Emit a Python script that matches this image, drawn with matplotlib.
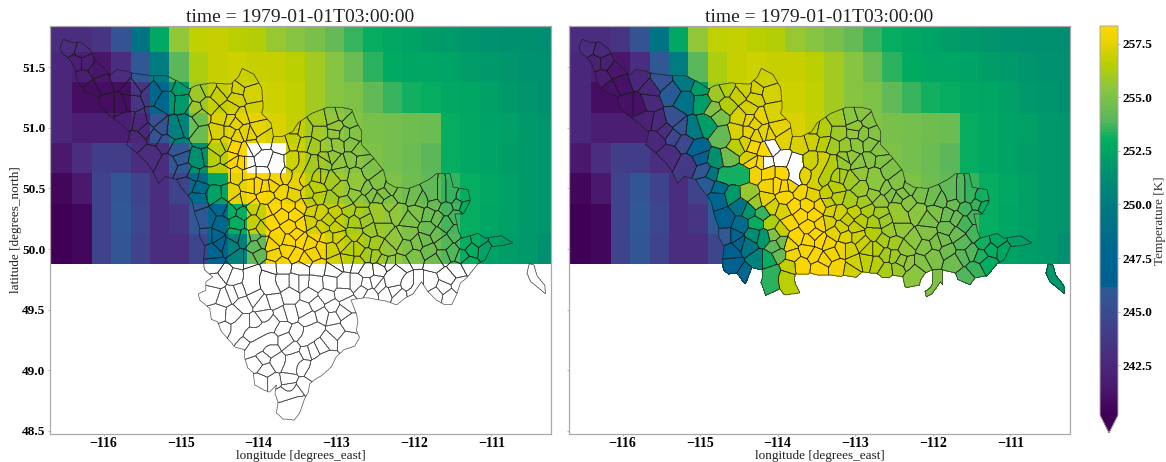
import numpy as np
import matplotlib
matplotlib.use("Agg")
import matplotlib.pyplot as plt
from matplotlib.colors import LinearSegmentedColormap, Normalize
from matplotlib.path import Path
from matplotlib.cm import ScalarMappable

plt.rcParams['font.family'] = ['Liberation Serif', 'DejaVu Serif']

TITLE = "time = 1979-01-01T03:00:00"
X_TICKS = [-116, -115, -114, -113, -112, -111]
Y_TICKS = [48.5, 49.0, 49.5, 50.0, 50.5, 51.0, 51.5]
CB_TICKS = [242.5, 245.0, 247.5, 250.0, 252.5, 255.0, 257.5]

N = float('nan')
# air temperature per grid cell, north row first (K)
ROW_5175 = [243,243,243.5,245.5,249.3,252.8,255.6,256.7,256.8,256.6,256.4,255.7,255.3,254.8,254.3,253.6,253,252.7,252.4,252.2,252,251.8,251.6,251.5,251.4,251.3]
ROW_5150 = [242.5,242,241.3,243,245.9,250,254,256.3,256.9,257,256.9,256.8,256.5,256,255.3,254.5,253.5,252.9,252.6,252.6,252.4,252.2,252,251.8,251.6,251.4]
ROW_5125 = [242.5,241,241,241,243.5,248,252,255.8,256.9,257.2,257.1,257,256.7,256,255.3,255,254.1,253.6,253.2,253,252.8,252.6,252.3,252,251.8,251.5]
ROW_5100 = [242.5,242,242,242,242.5,245.5,250.5,254.5,257.3,257.6,257.6,257.3,256.9,256,255.5,255.2,254.8,254.7,254.6,254.4,253,252.7,252.5,252.3,252,251.7]
ROW_5075 = [241.5,243,244,244,243,243,245.9,251.5,256.5,258.3,N,N,257,256,255.5,255.3,255,254.7,254.5,254,253,252.7,252.4,252.2,252,251.7]
ROW_5050 = [240.5,241.5,244.5,245.7,244.5,243,244.5,248.5,252.5,257.5,258.3,258,257.5,256.6,256,255.5,255.2,255,254.6,254.2,253.6,253,252.7,252.3,252,251.8]
ROW_5025 = [240.3,240.5,244.5,245.9,244.8,243,243.5,245.9,248,253,256.8,258.3,258.3,257.2,256.8,256.2,255.8,255.5,255,254.5,253.7,253,252.6,252.3,252,251.7]
ROW_5000 = [240.3,240.5,244.5,245.8,244.5,243,243,244.7,247.2,250.5,254.2,258,258.3,258,257.2,256.6,256,255.5,255,254.6,253.8,253,252.5,252.2,252,251.5]
LAT_EDGE_SOUTH = 49.875
LON_EDGE_WEST = -116.65
CELL = 0.25
XLIM = (-116.69, -110.23)
YLIM = (48.475, 51.84)

# basin outer boundary (lon, lat)
OUTLINE = [(-116.56,51.66),(-116.52,51.73),(-116.39,51.70),(-116.30,51.71),(-116.18,51.65),(-116.11,51.56),(-115.96,51.47),(-115.92,51.43),(-115.83,51.48),(-115.72,51.47),(-115.62,51.45),(-115.38,51.43),(-115.19,51.43),(-115.03,51.38),(-114.89,51.32),(-114.81,51.35),(-114.61,51.37),(-114.36,51.36),(-114.26,51.42),(-114.21,51.49),(-114.06,51.44),(-113.96,51.33),(-113.94,51.17),(-113.96,51.12),(-113.84,51.04),(-113.81,50.93),(-113.69,50.93),(-113.56,50.97),(-113.49,51.04),(-113.31,51.12),(-113.11,51.17),(-112.93,51.17),(-112.80,51.15),(-112.74,51.05),(-112.67,50.97),(-112.67,50.86),(-112.54,50.77),(-112.39,50.65),(-112.35,50.55),(-112.24,50.51),(-112.06,50.50),(-111.94,50.53),(-111.79,50.58),(-111.71,50.62),(-111.53,50.62),(-111.49,50.51),(-111.30,50.49),(-111.27,50.40),(-111.36,50.29),(-111.47,50.29),(-111.42,50.14),(-111.38,50.09),(-111.17,50.13),(-111.08,50.09),(-110.87,50.11),(-110.72,50.05),(-110.85,50.03),(-111.00,50.02),(-111.08,49.91),(-111.17,49.88),(-111.32,49.76),(-111.40,49.72),(-111.44,49.635),(-111.51,49.54),(-111.60,49.54),(-111.71,49.58),(-111.82,49.65),(-111.90,49.73),(-112.01,49.63),(-112.10,49.60),(-112.22,49.54),(-112.35,49.57),(-112.44,49.58),(-112.60,49.60),(-112.74,49.59),(-112.81,49.58),(-112.74,49.47),(-112.72,49.40),(-112.74,49.33),(-112.70,49.27),(-112.76,49.20),(-112.90,49.17),(-113.00,49.11),(-113.06,49.03),(-113.18,48.96),(-113.26,48.93),(-113.34,48.89),(-113.36,48.82),(-113.41,48.76),(-113.47,48.65),(-113.54,48.59),(-113.69,48.60),(-113.77,48.65),(-113.75,48.74),(-113.79,48.81),(-113.77,48.88),(-113.86,48.82),(-113.94,48.84),(-114.05,48.88),(-114.07,48.98),(-114.14,49.02),(-114.18,49.10),(-114.18,49.17),(-114.30,49.19),(-114.37,49.24),(-114.48,49.32),(-114.53,49.40),(-114.61,49.42),(-114.63,49.51),(-114.76,49.58),(-114.78,49.63),(-114.68,49.66),(-114.68,49.73),(-114.59,49.77),(-114.70,49.83),(-114.71,49.91),(-114.69,50.02),(-114.76,50.10),(-114.76,50.18),(-114.82,50.29),(-114.86,50.40),(-115.0,50.51),(-115.05,50.57),(-115.2,50.6),(-115.29,50.54),(-115.38,50.66),(-115.44,50.71),(-115.60,50.81),(-115.70,50.86),(-115.66,50.96),(-115.79,51.04),(-115.92,51.10),(-116.05,51.18),(-116.07,51.26),(-116.24,51.30),(-116.33,51.38),(-116.37,51.49),(-116.43,51.56),(-116.54,51.62)]
SLIVER = [(-110.51,49.88),(-110.45,49.87),(-110.41,49.78),(-110.31,49.70),(-110.30,49.63),(-110.41,49.69),(-110.49,49.73),(-110.54,49.80)]

SUB_NORTH = [
(-116.45,51.66),(-116.28,51.63),(-116.35,51.54),(-116.22,51.54),(-116.26,51.41),(-116.09,51.48),(-116.02,51.36),(-116.15,51.32),
(-115.79,51.41),(-115.94,51.19),(-115.79,51.19),(-115.64,51.32),(-115.66,51.22),(-115.51,51.38),(-115.38,51.29),(-115.19,51.38),
(-114.99,51.33),(-115.19,51.22),(-115.34,51.07),(-115.53,51.04),(-115.70,51.06),(-115.10,50.99),(-114.97,51.21),(-114.91,51.03),
(-115.57,50.90),(-115.34,50.93),(-115.21,50.88),(-115.04,50.82),(-114.82,51.15),(-114.78,51.28),(-114.65,51.32),(-114.52,51.27),
(-114.76,51.10),(-114.65,51.19),(-114.43,51.32),(-114.37,51.15),(-114.28,51.25),(-114.71,50.93),(-114.52,50.96),(-114.28,50.93),
(-114.52,50.85),(-114.30,51.04),
(-114.17,51.39),(-114.12,51.29),(-114.26,51.31),(-114.07,51.12),(-114.22,51.09),(-114.37,51.07),(-114.47,51.09),(-114.37,50.96),
(-114.17,50.96),(-114.02,50.98),(-113.94,50.90),(-114.31,50.85),(-114.17,50.82),(-114.36,50.74),(-114.19,50.71),(-113.92,50.74),
(-113.71,50.87),(-113.56,50.90),(-113.39,50.87),(-113.41,50.98),(-113.21,51.07),(-113.06,51.09),(-112.91,51.12),(-112.82,51.06),
(-113.21,50.96),(-113.01,50.96),(-112.80,50.87),(-113.0,50.86),(-113.11,50.85),(-112.80,50.73),(-113.31,50.71,-113.46,50.57),
(-113.06,50.76),(-112.93,50.64),(-112.74,50.62,-112.72,50.52),(-112.59,50.65),(-113.21,50.60),(-113.06,50.57),(-112.61,50.49),
(-112.93,50.49),(-112.67,50.40),(-112.46,50.54),(-112.29,50.51),(-112.16,50.46),(-111.99,50.43),(-112.33,50.38),(-112.46,50.34,-112.42,50.26),
(-112.67,50.29),(-112.89,50.38),(-113.06,50.40),(-112.05,50.24),(-111.81,50.28),(-111.60,50.21),(-111.81,50.17),
(-111.75,50.57,-111.75,50.43),(-111.64,50.56,-111.64,50.43),(-111.53,50.57,-111.53,50.43),(-111.38,50.43),(-111.43,50.37),(-111.58,50.34),(-111.73,50.38),(-111.90,50.40),
(-112.42,50.17),(-112.24,50.07),(-112.07,50.13),(-111.86,50.07),(-111.62,50.05),(-111.34,50.05),(-111.17,50.07),(-110.91,50.07),
(-111.08,49.99),(-111.38,49.94),(-111.62,49.94),(-111.81,49.99),(-111.99,49.94),(-112.16,49.88),(-112.31,49.88),(-112.50,49.94),
(-112.72,49.88),(-113.0,49.88),(-112.63,50.07),(-112.76,50.13),(-112.97,50.10),(-113.08,50.0),(-112.82,50.0),(-112.63,50.24),
(-112.93,50.24),(-113.10,50.24),(-111.45,49.83),(-111.56,49.77),(-111.96,49.72,-111.99,49.62),(-112.22,49.83,-112.29,49.72),(-111.30,49.88),
(-115.0,50.75),(-114.95,50.65),(-114.91,50.54),(-114.76,50.42),(-114.67,50.25),(-114.65,50.10),(-114.59,49.99),(-114.57,49.86),
(-114.43,49.80),(-114.48,50.20),(-114.39,50.03),(-114.80,50.73),(-114.63,50.75),(-114.70,50.60,-114.45,50.62),
(-114.59,50.45),(-114.48,50.35),(-114.37,50.46),(-114.28,50.38),(-114.37,50.32),(-114.28,50.21),(-114.09,50.21),(-114.31,50.12),
(-114.18,50.10),(-114.26,49.91),(-114.13,49.91),(-114.03,50.02),(-113.98,49.96),(-114.07,49.80,-114.11,49.68),(-113.90,49.76,-113.82,49.68),
(-114.09,50.35),(-113.96,50.16),(-113.81,49.95),(-114.35,50.73),(-114.18,50.71),(-114.11,50.53),(-114.00,50.53),(-113.81,50.53),
(-113.79,50.71,-113.77,50.57),(-113.66,50.60),(-113.79,50.35),(-113.62,50.36),(-113.92,50.31),(-113.75,50.10),(-113.60,50.18),
(-113.62,49.99),(-113.44,50.07),(-113.44,50.21),(-113.27,50.13),(-113.40,49.91),(-113.23,49.85),(-113.70,49.87),(-113.32,50.32),
(-113.44,50.35),(-113.17,50.18),(-113.17,50.0),(-113.40,50.73,-113.51,50.54),(-113.23,50.43),(-113.36,50.46),(-113.19,50.60),(-113.12,50.75),
(-110.47,49.84,-110.34,49.70),
(-113.93,50.62),(-113.55,50.72),(-113.55,50.45),(-113.70,50.47),(-113.90,50.43),(-114.13,50.62),(-113.85,50.22),(-113.70,50.28),
(-113.52,50.28),(-113.35,50.22),(-113.35,50.05),(-113.52,50.12),(-113.60,50.07),(-113.85,50.03),(-113.52,49.95),(-113.30,49.96),
(-113.12,50.10),(-113.0,50.18),(-112.85,50.32),(-112.75,50.22),(-112.55,50.15),(-112.50,50.05),(-112.35,50.0),(-112.9,50.05),
(-112.72,50.0),(-112.6,49.95),(-112.85,49.9),(-112.40,49.9),(-112.1,50.02),(-111.95,50.05),(-111.7,50.12),(-111.45,50.13),
(-111.25,50.0),(-111.5,49.97),(-111.72,49.9),(-112.2,50.3),(-112.45,50.42),(-112.55,50.45),(-112.75,50.45),(-113.0,50.3),
(-113.2,50.3),(-112.95,50.7),(-112.68,50.72),(-112.7,50.82),(-112.9,50.95),(-113.15,50.72),(-113.3,50.85),(-113.25,50.5),
(-113.35,50.38),(-113.0,51.0),(-112.75,50.95),(-113.55,51.0),(-112.4,50.45),(-111.95,50.3),(-111.7,50.25),(-111.45,50.27),(-111.35,50.35),
(-114.1,50.95),(-114.42,50.88),(-114.08,50.85),(-114.28,50.62),(-114.15,50.4),(-114.2,50.3),(-113.92,50.52),(-113.95,50.05),
(-114.05,50.12),(-114.55,50.1),(-114.5,50.05),(-114.75,50.5),(-114.85,50.62),(-115.15,50.7),(-115.4,50.78),(-115.45,50.98),(-115.25,51.0),
(-113.45,49.85),(-113.05,49.83),(-112.6,49.83),(-112.45,49.84),(-113.85,49.86),
]
SUB_SOUTH = [
(-114.59,49.63),(-114.33,49.63),(-114.31,49.77),(-113.70,49.72),(-113.60,49.62),(-113.51,49.72),(-113.26,49.71),(-113.08,49.72),
(-113.34,49.62),(-113.13,49.61),(-112.91,49.63),(-112.74,49.72),(-112.65,49.66),(-114.52,49.47),(-114.33,49.46),(-114.20,49.39,-114.31,49.28),
(-114.44,49.32),(-113.92,49.44),(-114.03,49.39),(-113.60,49.47),(-113.81,49.39,-114.11,49.29),(-113.41,49.50),(-113.51,49.30),(-113.64,49.25),
(-113.17,49.46),(-113.04,49.44),(-112.93,49.48),(-112.83,49.39),(-113.0,49.32),(-112.87,49.25),(-113.10,49.25),(-113.28,49.33,-113.41,49.25),
(-113.86,49.25,-114.09,49.17),(-114.03,49.06),(-113.86,49.17),(-113.75,49.06),(-113.96,48.91),(-113.81,48.91),(-113.51,49.11,-113.60,49.02),
(-113.30,49.17),(-113.13,49.09,-113.30,48.98),(-113.43,49.03),(-113.60,48.85),(-113.72,48.79,-113.52,48.82),(-113.72,48.68,-113.50,48.74),(-113.41,48.87),
(-112.61,49.70),(-112.44,49.70),(-112.27,49.66),(-112.57,49.63),(-112.35,49.64),(-112.18,49.60),(-111.79,49.72),(-111.62,49.68),
(-111.71,49.63),(-111.54,49.61),(-111.41,49.70),(-112.05,49.72),(-112.48,49.72),(-112.90,49.72),(-113.45,49.72),(-114.25,49.65),(-114.55,49.74),
(-114.45,49.6),(-114.2,49.55),(-114.05,49.6),(-113.8,49.58),(-113.7,49.45),(-113.95,49.55),(-113.25,49.55),(-113.05,49.52),
(-112.85,49.55),(-113.35,49.43),(-113.55,49.18),(-113.2,49.2),(-113.7,49.35),(-114.2,49.22),(-113.95,49.1),(-113.4,49.15),(-113.62,48.93),(-113.9,49.0),
]

# colour scale anchors (K, colour)
CB_LEVELS = [240.16, 241.5, 243, 245, 246, 246.2, 248, 250, 251.5, 253, 254, 255.5, 256.6, 257.5, 258.34]
CB_COLORS = ['#400055', '#4a1a6f', '#4a2f80', '#3a4b8f', '#2f5a96', '#005f92', '#00688f', '#007a80', '#009070', '#00ad60', '#5bb75b', '#8cc63f', '#b8cf00', '#e2d200', '#ffd700']

VMIN, VMAX = CB_LEVELS[0], CB_LEVELS[-1]
norm = Normalize(VMIN, VMAX)
cmap = LinearSegmentedColormap.from_list('era', [((v - VMIN) / (VMAX - VMIN), c) for v, c in zip(CB_LEVELS, CB_COLORS)], N=128)
cmap.set_bad((1, 1, 1, 0))

temp = np.array([ROW_5000, ROW_5025, ROW_5050, ROW_5075, ROW_5100, ROW_5125, ROW_5150, ROW_5175])
lon_edges = LON_EDGE_WEST + CELL * np.arange(temp.shape[1] + 1)
lon_edges[0] = XLIM[0]
lat_edges = LAT_EDGE_SOUTH + CELL * np.arange(temp.shape[0] + 1)

# sub-basin map: every map point belongs to the nearest sub-basin axis
lon_f = np.arange(-116.7, -110.2, 0.006)
lat_f = np.arange(48.5, 51.8, 0.004)
LON, LAT = np.meshgrid(lon_f, lat_f)
pts = np.column_stack([LON.ravel(), LAT.ravel()])
inside = Path(OUTLINE + OUTLINE[:1]).contains_points(pts) | Path(SLIVER + SLIVER[:1]).contains_points(pts)
subs = [(s + s) if len(s) == 2 else s for s in SUB_NORTH + SUB_SOUTH]
n_north = len(SUB_NORTH)
KX, KY = 77.5, 121.3
ip = pts[inside]
best = np.full(len(ip), np.inf)
lab = np.zeros(len(ip), dtype=int)
for i, (x1, y1, x2, y2) in enumerate(subs):
    ax_, ay_ = (x2 - x1) * KX, (y2 - y1) * KY
    px, py = (ip[:, 0] - x1) * KX, (ip[:, 1] - y1) * KY
    den = ax_ * ax_ + ay_ * ay_
    t = np.clip((px * ax_ + py * ay_) / den, 0, 1) if den > 0 else 0.0
    d = (px - t * ax_) ** 2 + (py - t * ay_) ** 2
    m = d < best
    best[m] = d[m]
    lab[m] = i
labels = np.full(LON.size, -1)
labels[inside] = lab
labels = labels.reshape(LON.shape)

# area mean temperature of each sub-basin
ci = np.clip(np.searchsorted(lon_edges, LON) - 1, 0, temp.shape[1] - 1)
ri = np.clip(np.searchsorted(lat_edges, LAT) - 1, 0, temp.shape[0] - 1)
field = temp[ri, ci]
sub_t = []
for i in range(n_north):
    v = field[labels == i]
    sub_t.append(np.nan if v.size == 0 or np.isnan(v).mean() > 0.6 else np.nanmean(v))

fig = plt.figure(figsize=(11.66, 4.62), dpi=100)
W, H = 1166, 462
ax1 = fig.add_axes([50 / W, (H - 434) / H, 501 / W, 408 / H])
ax2 = fig.add_axes([569 / W, (H - 434) / H, 501 / W, 408 / H])
cax = fig.add_axes([1100 / W, (H - 433) / H, 18 / W, 407 / H])

for k, ax in enumerate((ax1, ax2)):
    ax.pcolormesh(lon_edges, lat_edges, np.ma.masked_invalid(temp), cmap=cmap, norm=norm, zorder=1)
    ax.set_xlim(*XLIM)
    ax.set_ylim(*YLIM)
    for i in range(len(subs)):
        if k == 1 and i >= n_north:
            continue
        rr, cc = np.nonzero(labels == i)
        if rr.size == 0:
            continue
        r0, r1 = max(rr.min() - 2, 0), min(rr.max() + 3, LON.shape[0])
        c0, c1 = max(cc.min() - 2, 0), min(cc.max() + 3, LON.shape[1])
        win = (labels[r0:r1, c0:c1] == i).astype(float)
        xs, ys = lon_f[c0:c1], lat_f[r0:r1]
        if k == 1:
            tv = sub_t[i]
            col = (1, 1, 1, 1) if np.isnan(tv) else cmap(norm(tv))
            ax.contourf(xs, ys, win, levels=[0.5, 1.5], colors=[col], zorder=2)
        line = '#3c3c3c' if i >= n_north else '#1a1a1a'
        ax.contour(xs, ys, win, levels=[0.5], colors=line, linewidths=0.5, alpha=0.85, zorder=3)
    ax.set_xticks(X_TICKS)
    ax.set_xticklabels(['\u2212%d' % abs(v) for v in X_TICKS], fontweight='bold', fontsize=10)
    ax.set_xlabel('longitude [degrees_east]', fontsize=9.5, labelpad=0.5, color='#222222')
    ax.set_title(TITLE, fontsize=14, pad=1, color='#222222')
    ax.tick_params(length=1.5, width=0.5, color='#999999', pad=0.5)
    for sp in ax.spines.values():
        sp.set_color('#aaaaaa')
        sp.set_linewidth(0.9)
ax1.set_yticks(Y_TICKS)
ax1.set_yticklabels(['%.1f' % v for v in Y_TICKS], fontweight='bold', fontsize=9.5)
ax1.tick_params(axis='y', pad=2)
ax1.set_ylabel('latitude [degrees_north]', fontsize=9.5, labelpad=0, color='#222222')
ax2.set_yticks(Y_TICKS)
ax2.set_yticklabels([])

cb = fig.colorbar(ScalarMappable(norm=norm, cmap=cmap), cax=cax, extend='min', extendfrac=0.046, drawedges=False)
cb.set_ticks(CB_TICKS)
cb.set_ticklabels(['%.1f' % v for v in CB_TICKS], fontweight='bold', fontsize=9.5)
cb.ax.tick_params(length=1.5, width=0.5, color='#999999', pad=2)
cb.outline.set_edgecolor('#aaaaaa')
cb.outline.set_linewidth(0.7)
cb.set_label('Temperature [K]', fontsize=9.5, labelpad=1, color='#333333')
fig.savefig('out.png', dpi=100)
